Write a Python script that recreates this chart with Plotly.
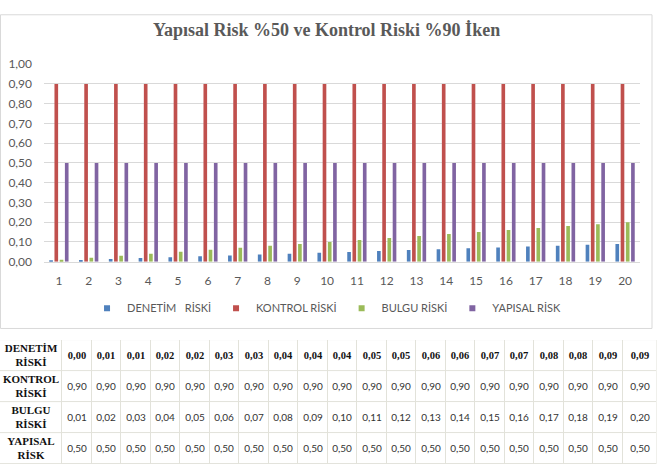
import plotly.graph_objects as go

categories = [str(i) for i in range(1, 21)]
denetim = [0.0045, 0.009, 0.0135, 0.018, 0.0225, 0.027, 0.0315, 0.036, 0.0405, 0.045,
           0.0495, 0.054, 0.0585, 0.063, 0.0675, 0.072, 0.0765, 0.081, 0.0855, 0.09]
kontrol = [0.90] * 20
bulgu = [0.01, 0.02, 0.03, 0.04, 0.05, 0.06, 0.07, 0.08, 0.09, 0.10,
         0.11, 0.12, 0.13, 0.14, 0.15, 0.16, 0.17, 0.18, 0.19, 0.20]
yapisal = [0.50] * 20

series_names = ["DENETİM\u00a0\u00a0\u00a0RİSKİ", "KONTROL RİSKİ", "BULGU RİSKİ", "YAPISAL RİSK"]
row_labels = ["DENETİM<br>RİSKİ", "KONTROL<br>RİSKİ", "BULGU<br>RİSKİ", "YAPISAL<br>RİSK"]
colors = ["#4f81bd", "#c0504d", "#9bbb59", "#8064a2"]
title = "Yapısal Risk %50 ve Kontrol Riski %90 İken"

# table geometry (pixels)
label_col_w = 62
value_col_w = [29.5] * 19 + [34]
row_h = 32

W, H = 657, 471
fig = go.Figure()
for name, vals, col in zip(series_names, [denetim, kontrol, bulgu, yapisal], colors):
    fig.add_trace(go.Bar(x=categories, y=vals, name=name, marker_color=col,
                         marker_line_width=0, xaxis="x", yaxis="y", showlegend=False,
                         hoverinfo="skip"))
    fig.add_trace(go.Scatter(x=[None], y=[None], mode="markers", name=name,
                             marker=dict(symbol="square", size=6, color=col),
                             xaxis="x", yaxis="y", showlegend=True))


def fmt(v):
    return f"{v:.2f}".replace(".", ",")


all_rows = [denetim, kontrol, bulgu, yapisal]
x_edges = [0, label_col_w]
for w in value_col_w:
    x_edges.append(x_edges[-1] + w)
y_edges = [i * row_h for i in range(5)]
white = [[0, "white"], [1, "white"]]
common = dict(xaxis="x2", yaxis="y2", colorscale=white, showscale=False, zmin=0, zmax=1,
              xgap=1, ygap=1, hoverinfo="skip", texttemplate="%{text}")

# row label column
fig.add_trace(go.Heatmap(x=x_edges[:2], y=y_edges, z=[[0]] * 4,
                         text=[["<b>" + r + "</b>"] for r in row_labels],
                         textfont=dict(family="Liberation Serif", size=11, color="#111"), **common))
# first data row (bold serif)
fig.add_trace(go.Heatmap(x=x_edges[1:], y=y_edges[:2], z=[[0] * 20],
                         text=[["<b>" + fmt(v) + "</b>" for v in denetim]],
                         textfont=dict(family="Liberation Serif", size=10.5, color="#111"), **common))
# remaining rows
fig.add_trace(go.Heatmap(x=x_edges[1:], y=y_edges[1:], z=[[0] * 20] * 3,
                         text=[[fmt(v) for v in r] for r in all_rows[1:]],
                         textfont=dict(family="Lato", size=10, color="#333"), **common))

table_top = 343
fig.add_shape(type="rect", xref="x2", yref="y2", x0=0, x1=x_edges[-1], y0=0, y1=y_edges[-1],
              line=dict(width=0), fillcolor="#e2e2da", layer="below")

fig.add_shape(type="rect", xref="paper", yref="paper",
              x0=0.5 / W, x1=652 / W, y0=1 - 331 / H, y1=1 - 7 / H,
              line=dict(color="#d9d9d9", width=1), fillcolor="rgba(0,0,0,0)", layer="below")

fig.update_layout(
    width=W, height=H,
    margin=dict(l=0, r=0, t=0, b=0),
    paper_bgcolor="white", plot_bgcolor="white",
    separators=",.",
    barmode="group", bargap=0.3, bargroupgap=0.3,
    title=dict(text="<b>" + title + "</b>", x=0.497, xanchor="center", y=1 - 30 / H, yanchor="middle",
               font=dict(family="Liberation Serif", size=18, color="#595959")),
    xaxis=dict(domain=[44 / W, 640 / W], type="category", showgrid=False,
               showline=True, linecolor="#d9d9d9", ticks="", ticklabelstandoff=8,
               tickfont=dict(family="Lato", size=12, color="#595959"), anchor="y"),
    yaxis=dict(domain=[1 - 262 / H, 1 - 58 / H], range=[0, 1], dtick=0.1, tickformat=".2f",
               showgrid=True, gridcolor="#d9d9d9", zeroline=False, ticks="", ticklabelstandoff=11,
               tickfont=dict(family="Lato", size=12, color="#595959"), anchor="x"),
    xaxis2=dict(domain=[0, 1], range=[0, W], visible=False, anchor="y2", fixedrange=True),
    yaxis2=dict(domain=[0, (H - table_top) / H], range=[H - table_top, 0], visible=False,
                anchor="x2", fixedrange=True),
    showlegend=True,
    legend=dict(orientation="h", x=0.497, xanchor="center", y=1 - 310 / H, yanchor="middle",
                font=dict(family="Lato", size=11, color="#595959"), itemwidth=30,
                traceorder="normal"),
)

fig.write_html("out.html", config={"displayModeBar": False},
               post_script="document.body.style.margin='0';document.body.style.overflow='hidden';")
